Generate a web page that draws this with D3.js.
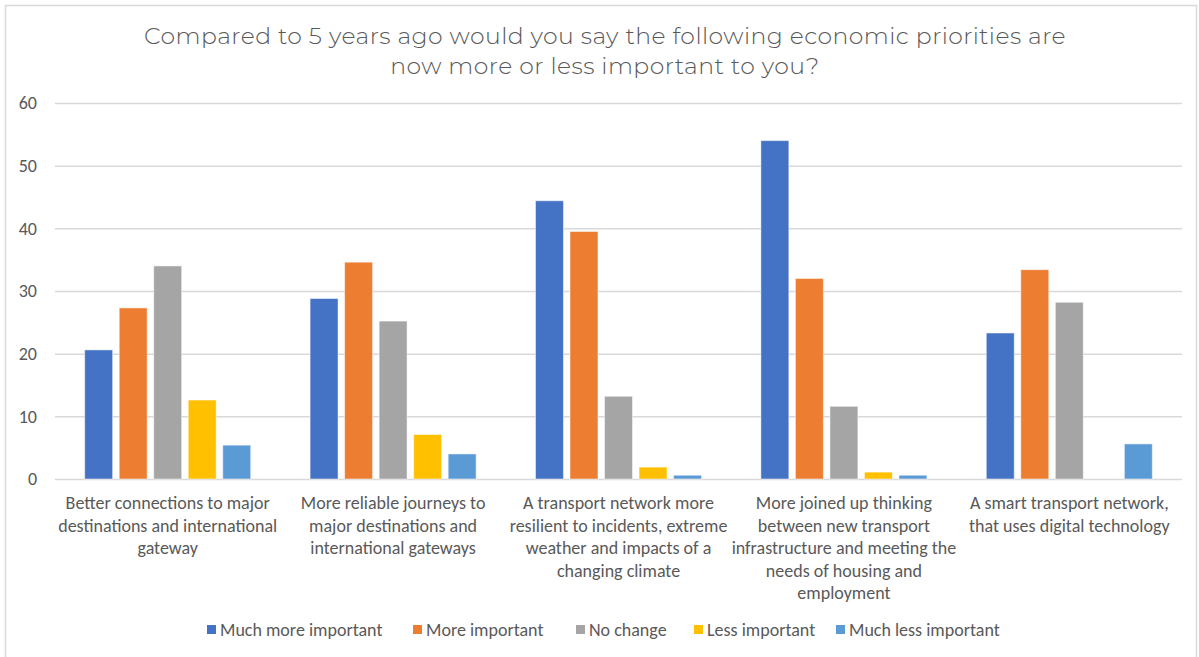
<!DOCTYPE html>
<html>
<head>
<meta charset="utf-8">
<script src="https://cdn.jsdelivr.net/npm/d3@7"></script>
<style>
  html, body { margin: 0; padding: 0; background: #fff; }
  svg { display: block; }
</style>
</head>
<body>
<svg id="chart" width="1199" height="657"></svg>
<script>
// Survey categories (each split into the lines shown under the axis)
const categories = [
  "Better connections to major destinations and international gateway",
  "More reliable journeys to major destinations and international gateways",
  "A transport network more resilient to incidents, extreme weather and impacts of a changing climate",
  "More joined up thinking between new transport infrastructure and meeting the needs of housing and employment",
  "A smart transport network, that uses digital technology"
];
const categoryLines = [
  ["Better connections to major", "destinations and international", "gateway"],
  ["More reliable journeys to", "major destinations and", "international gateways"],
  ["A transport network more", "resilient to incidents, extreme", "weather and impacts of a", "changing climate"],
  ["More joined up thinking", "between new transport", "infrastructure and meeting the", "needs of housing and", "employment"],
  ["A smart transport network,", "that uses digital technology"]
];

const seriesNames = ["Much more important", "More important", "No change", "Less important", "Much less important"];
const seriesColors = ["#4472c4", "#ed7d31", "#a5a5a5", "#ffc000", "#5b9bd5"];

const muchMore = [20.6, 28.8, 44.4, 54.0, 23.3];
const more     = [27.3, 34.6, 39.5, 32.0, 33.4];
const noChange = [34.0, 25.2, 13.2, 11.6, 28.2];
const less     = [12.6, 7.1, 1.9, 1.1, 0];
const muchLess = [5.4, 4.0, 0.6, 0.6, 5.6];
const seriesValues = [muchMore, more, noChange, less, muchLess];

const yTicks = [0, 10, 20, 30, 40, 50, 60];

const titleLines = [
  "Compared to 5 years ago would you say the following economic priorities are",
  "now more or less important to you?"
];

const W = 1199, H = 657;
const plot = { left: 55, right: 1182, top: 103, bottom: 479 };
const svg = d3.select("#chart");
const labelFont = "Carlito, Calibri, Lato, 'Open Sans', sans-serif";
const textColor = "#595959";

// Chart frame
svg.append("rect")
  .attr("x", 5.5).attr("y", 5.5)
  .attr("width", W - 8).attr("height", H + 10)
  .attr("fill", "#fff").attr("stroke", "#d9d9d9").attr("stroke-width", 1.5);

// Title
svg.append("text")
  .attr("text-anchor", "middle")
  .attr("font-family", "Montserrat, Lato, sans-serif")
  .attr("font-size", 23.5)
  .attr("font-weight", 300)
  .attr("letter-spacing", 0.45)
  .attr("fill", textColor)
  .selectAll("tspan")
  .data(titleLines)
  .join("tspan")
  .attr("x", 605)
  .attr("y", (d, i) => 44 + i * 30)
  .text(d => d);

const x0 = d3.scaleBand()
  .domain(d3.range(categories.length))
  .range([plot.left, plot.right])
  .paddingInner(0).paddingOuter(0);

const x1 = d3.scaleBand()
  .domain(d3.range(seriesNames.length))
  .range([0, x0.bandwidth()])
  .paddingInner(0.19)
  .paddingOuter(0.86);

const y = d3.scaleLinear().domain([0, 60]).range([plot.bottom, plot.top]);

// Gridlines and y labels
const yAxis = d3.axisLeft(y).tickValues(yTicks).tickSize(-(plot.right - plot.left)).tickPadding(18);
const gy = svg.append("g").attr("transform", `translate(${plot.left},0)`).call(yAxis);
gy.select(".domain").remove();
gy.selectAll(".tick line").attr("stroke", "#d9d9d9").attr("stroke-width", 1.5);
gy.selectAll(".tick text")
  .attr("font-family", labelFont)
  .attr("font-size", 18)
  .attr("fill", textColor);

// Bars
const groups = svg.append("g").selectAll("g")
  .data(categories)
  .join("g")
  .attr("transform", (d, i) => `translate(${x0(i)},0)`);

groups.selectAll("rect")
  .data((d, ci) => seriesValues.map((vals, si) => ({ si, v: vals[ci] })))
  .join("rect")
  .filter(d => d.v > 0)
  .attr("x", d => x1(d.si))
  .attr("y", d => y(d.v))
  .attr("width", x1.bandwidth())
  .attr("height", d => y(0) - y(d.v))
  .attr("fill", d => seriesColors[d.si])
  .attr("stroke", "#fff")
  .attr("stroke-opacity", 0.5)
  .attr("stroke-width", 1);

// Category labels
const xAxis = d3.axisBottom(x0).tickSize(0).tickFormat(() => "");
const gx = svg.append("g").attr("transform", `translate(0,${plot.bottom})`).call(xAxis);
gx.select(".domain").remove();
gx.selectAll(".tick text").remove();
gx.selectAll(".tick")
  .append("text")
  .attr("text-anchor", "middle")
  .attr("font-family", labelFont)
  .attr("font-size", 18)
  .attr("fill", textColor)
  .selectAll("tspan")
  .data(i => categoryLines[i])
  .join("tspan")
  .attr("x", 0)
  .attr("y", (d, i) => 30 + i * 22.5)
  .text(d => d);

// Legend
const legendItems = seriesNames.map((n, i) => ({ n, c: seriesColors[i] }));
const legendX = [207, 413, 576, 694, 836];
const lg = svg.append("g").selectAll("g")
  .data(legendItems)
  .join("g")
  .attr("transform", (d, i) => `translate(${legendX[i]},630)`);
lg.append("rect").attr("x", 0).attr("y", -5).attr("width", 9).attr("height", 9).attr("fill", d => d.c);
lg.append("text")
  .attr("x", 13).attr("y", 6)
  .attr("font-family", labelFont)
  .attr("font-size", 18)
  .attr("fill", textColor)
  .text(d => d.n);
</script>
</body>
</html>
